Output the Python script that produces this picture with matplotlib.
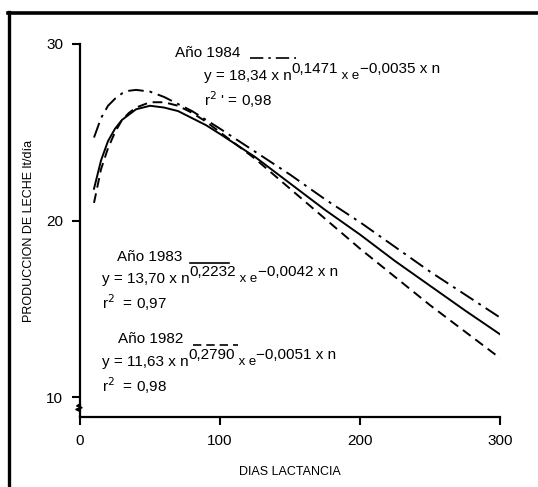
import numpy as np
import matplotlib
matplotlib.use("Agg")
import matplotlib.pyplot as plt

plt.rcParams['font.family'] = ['Liberation Sans', 'DejaVu Sans']

## Datos (producción de leche, lt/día)
dias = [10, 15, 20, 25, 30, 35, 40, 50, 60, 70, 80, 90, 100, 125, 150, 175, 200, 225, 250, 275, 300]

prod_1984 = [24.7, 25.8, 26.5, 26.9, 27.2, 27.35, 27.4, 27.3, 27.0, 26.6, 26.2, 25.7, 25.2,
             23.9, 22.6, 21.2, 19.9, 18.5, 17.1, 15.8, 14.5]
prod_1983 = [21.8, 23.4, 24.5, 25.2, 25.7, 26.0, 26.3, 26.5, 26.4, 26.2, 25.8, 25.4, 24.9,
             23.6, 22.1, 20.6, 19.2, 17.7, 16.3, 14.9, 13.55]
prod_1982 = [21.0, 22.9, 24.1, 25.0, 25.7, 26.1, 26.4, 26.7, 26.7, 26.5, 26.1, 25.6, 25.0,
             23.5, 21.8, 20.1, 18.4, 16.8, 15.2, 13.7, 12.2]

ecuaciones = {
    '1984': ('y = 18,34 x n', '0,1471', '−0,0035 x n', "r$^2$ ' = 0,98"),
    '1983': ('y = 13,70 x n', '0,2232', '−0,0042 x n', 'r$^2$  = 0,97'),
    '1982': ('y = 11,63 x n', '0,2790', '−0,0051 x n', 'r$^2$  = 0,98'),
}

estilo_1984 = (0, (8, 3, 1.5, 3))
estilo_1983 = '-'
estilo_1982 = (0, (5, 3))

fig = plt.figure(figsize=(5.38, 4.87), dpi=100)
ax = fig.add_axes([0.1487, 0.1437, 0.781, 0.766])

ax.plot(dias, prod_1984, color='black', lw=1.4, linestyle=estilo_1984)
ax.plot(dias, prod_1983, color='black', lw=1.4, linestyle=estilo_1983)
ax.plot(dias, prod_1982, color='black', lw=1.4, linestyle=estilo_1982)

ax.set_xlim(0, 300)
ax.set_ylim(8.87, 30)
ax.set_xticks([0, 100, 200, 300])
ax.set_yticks([10, 20, 30])
ax.tick_params(axis='both', labelsize=11, width=1.5, length=6, direction='out', pad=6)
for s in ['top', 'right']:
    ax.spines[s].set_visible(False)
for s in ['left', 'bottom']:
    ax.spines[s].set_linewidth(1.6)

ax.set_xlabel('DIAS LACTANCIA', fontsize=9, labelpad=13)
ax.set_ylabel('PRODUCCION DE LECHE lt/día', fontsize=9, labelpad=8)

# corte del eje y
ax.plot([0, 0], [9.2, 9.6], color='white', lw=3, transform=ax.get_yaxis_transform(), clip_on=False)
ax.plot([0.0, -0.007, 0.004, -0.009, 0.0], [9.6, 9.5, 9.4, 9.3, 9.2], color='black', lw=1.4,
        transform=ax.get_yaxis_transform(), clip_on=False)


def ecuacion(x, y, partes, size=11):
    base, exp1, exp2, r2 = partes
    t = fig.text(x, y, base, fontsize=size, va='bottom', ha='left')
    t = ax.annotate(exp1, xy=(1, 0), xycoords=t, xytext=(0, 5), textcoords='offset points',
                    fontsize=size, va='bottom', ha='left')
    t = ax.annotate(' x e', xy=(1, 0), xycoords=t, xytext=(0, -4), textcoords='offset points',
                    fontsize=size - 1.5, va='bottom', ha='left')
    ax.annotate(exp2, xy=(1, 0), xycoords=t, xytext=(0, 4), textcoords='offset points',
                fontsize=size, va='bottom', ha='left')
    fig.text(x, y - 0.055, r2, fontsize=size, va='bottom', ha='left')


def muestra(x0, x1, y, estilo):
    fig.add_artist(plt.Line2D([x0, x1], [y, y], color='black', lw=1.2, linestyle=estilo))


fig.text(175 / 538, 1 - 53 / 487, 'Año 1984', fontsize=11, va='center', ha='left')
muestra(250 / 538, 296 / 538, 1 - 58 / 487, estilo_1984)
ecuacion(204 / 538, 1 - 83 / 487, ecuaciones['1984'])

fig.text(117 / 538, 1 - 257 / 487, 'Año 1983', fontsize=11, va='center', ha='left')
muestra(190 / 538, 229 / 538, 1 - 263 / 487, estilo_1983)
ecuacion(102 / 538, 1 - 286 / 487, ecuaciones['1983'])

fig.text(118 / 538, 1 - 339 / 487, 'Año 1982', fontsize=11, va='center', ha='left')
muestra(193 / 538, 238 / 538, 1 - 345 / 487, estilo_1982)
ecuacion(102 / 538, 1 - 369 / 487, ecuaciones['1982'])

# marco
fig.add_artist(plt.Line2D([9 / 538, 9 / 538], [0, 1 - 12 / 487], color='black', lw=2.4))
fig.add_artist(plt.Line2D([8 / 538, 1], [1 - 13 / 487, 1 - 13 / 487], color='black', lw=2.6))

fig.savefig('out.png', dpi=100)
